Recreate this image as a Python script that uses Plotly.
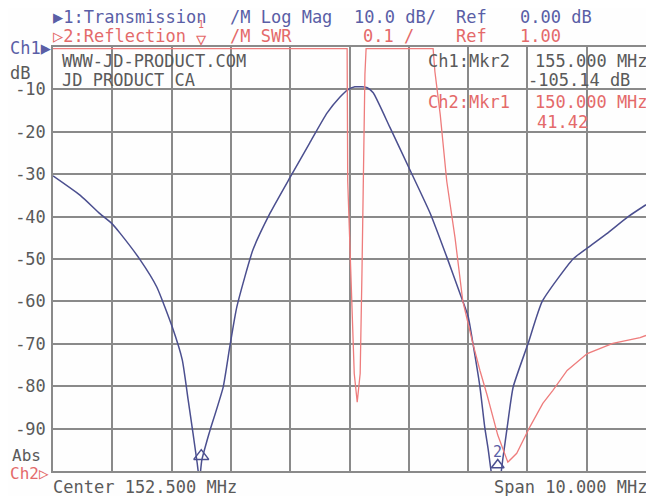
import plotly.graph_objects as go

# ---------------- data ----------------
freq_blue = [147.5, 147.96, 148.29, 148.49, 148.63, 148.97, 149.25, 149.51, 149.68, 149.78,
             149.86, 149.93, 149.97, 150.01, 150.10, 150.15, 150.37, 150.48, 150.60, 150.87,
             151.16, 151.50, 151.83, 152.12, 152.34, 152.47, 152.59, 152.71, 152.80, 152.90,
             153.18, 153.52, 153.86, 154.14, 154.36, 154.50, 154.58, 154.70, 154.78, 154.84,
             154.90, 155.00, 155.09, 155.16, 155.26, 155.51, 155.75, 156.27, 156.51,
             156.84, 157.20, 157.5]
trans_db = [-30.4, -35.0, -39.3, -41.6, -43.9, -50.2, -56.6, -66.0, -73.8, -83.3,
            -91.0, -98.0, -102.0, -97.4, -92.7, -90.3, -80.2, -70.8, -61.3, -47.9,
            -39.2, -30.7, -22.6, -15.6, -11.8, -10.1, -9.4, -9.4, -9.6, -10.8,
            -18.9, -29.0, -39.2, -49.5, -58.0, -63.5, -69.8, -80.2, -89.6, -95.0,
            -101.0, -105.14, -96.7, -89.6, -80.2, -70.0, -60.0, -50.0, -47.4,
            -44.0, -40.0, -37.2]

freq_red = [147.5, 152.46, 152.47, 152.54, 152.58, 152.63, 152.68, 152.71, 152.73, 152.76,
            152.78, 153.91, 153.94, 154.03, 154.14, 154.28, 154.41, 154.50, 154.58, 154.70,
            154.82, 155.00, 155.17, 155.32, 155.54, 155.76, 155.93, 156.17, 156.51, 156.94,
            157.40, 157.50]
refl_swr = [2.0, 2.0, 1.686, 1.387, 1.231, 1.163, 1.231, 1.467, 1.703, 1.939,
            2.0, 2.0, 1.946, 1.844, 1.686, 1.552, 1.403, 1.349, 1.302, 1.238,
            1.18, 1.085, 1.021, 1.042, 1.104, 1.160, 1.191, 1.238, 1.278, 1.302,
            1.316, 1.321]

db_ticks = [-10, -20, -30, -40, -50, -60, -70, -80, -90]
db_tick_text = ["-10", "-20", "-30", "-40", "-50", "-60", "-70", "-80", "-90"]

mkr_freqs = [150.0, 155.0]
mkr1_ch1_db = -96.5
mkr2_ch1_db = -98.6
mkr2_label_db = -95.4
mkr_ch2_swr_top = 2.0

# ---------------- styles ----------------
# the page body has an 8px margin, so the figure is drawn 8px smaller
OFF = 8
SW, SH = 654, 496                    # screen size
W, H = SW - OFF, SH - OFF            # figure size
PLOT_L, PLOT_R, PLOT_T, PLOT_B = 53, 648, 47, 471   # plot area on screen
L, R, T, B = PLOT_L - OFF, SW - PLOT_R, PLOT_T - OFF, SH - PLOT_B
PW, PH = PLOT_R - PLOT_L, PLOT_B - PLOT_T
BLUE = "#4b4f8f"
BLUE_TXT = "#5a5ea6"
RED = "#ee7c7c"
RED_TXT = "#e46a6a"
GREY_TXT = "#5a5a5a"
GRID = "#8a8a8a"
FONT = "DejaVu Sans Mono"
FS = 17


def px(x):
    return (x - PLOT_L) / PW


def py(y):
    return (PLOT_B - y) / PH


fig = go.Figure()
fig.add_trace(go.Scatter(x=freq_blue, y=trans_db, mode="lines",
                         line=dict(color=BLUE, width=1.5, shape="spline", smoothing=0.5),
                         showlegend=False, yaxis="y"))
fig.add_trace(go.Scatter(x=freq_red, y=refl_swr, mode="lines",
                         line=dict(color=RED, width=1.3), showlegend=False, yaxis="y2"))

# markers
fig.add_trace(go.Scatter(x=[mkr_freqs[0]], y=[mkr1_ch1_db], mode="markers", cliponaxis=False,
                         marker=dict(symbol="triangle-up-open", size=13, color=BLUE,
                                     line=dict(width=1.5, color=BLUE)),
                         showlegend=False, yaxis="y"))
fig.add_trace(go.Scatter(x=[mkr_freqs[1]], y=[mkr2_ch1_db], mode="markers", cliponaxis=False,
                         marker=dict(symbol="triangle-up-open", size=11, color=BLUE,
                                     line=dict(width=1.5, color=BLUE)),
                         showlegend=False, yaxis="y"))
fig.add_annotation(x=mkr_freqs[1], y=mkr2_label_db, xref="x", yref="y", text="2",
                   showarrow=False, yanchor="middle",
                   font=dict(family=FONT, size=15, color=BLUE_TXT))

fig.update_layout(
    width=W, height=H,
    margin=dict(l=L, r=R, t=T, b=B),
    paper_bgcolor="#fefefe", plot_bgcolor="#fefefe",
    font=dict(family=FONT, size=FS, color=GREY_TXT),
    xaxis=dict(range=[147.5, 157.5], dtick=1, tick0=147.5, showgrid=True, gridcolor=GRID,
               gridwidth=1.5, showticklabels=False, ticks="", zeroline=False,
               showline=True, linecolor=GRID, linewidth=1.5, mirror=True),
    yaxis=dict(range=[-100, 0], tickvals=db_ticks, ticktext=db_tick_text, showgrid=True,
               gridcolor=GRID, gridwidth=1.5, ticks="", zeroline=False,
               showline=True, linecolor=GRID, linewidth=1.5, mirror=True,
               tickfont=dict(family=FONT, size=FS, color=GREY_TXT), ticklabelstandoff=2),
    yaxis2=dict(range=[1.0, 2.004], overlaying="y", visible=False),
)


def txt(x, y, s, color, size=FS, anchor="left"):
    fig.add_annotation(xref="paper", yref="paper", x=px(x), y=py(y), text=s, showarrow=False,
                       xanchor=anchor, yanchor="middle",
                       font=dict(family=FONT, size=size, color=color))


# header
txt(51, 17, "▶1:Transmission", BLUE_TXT)
txt(229, 17, "/M Log Mag", BLUE_TXT)
txt(353, 17, "10.0 dB/", BLUE_TXT)
txt(455, 17, "Ref", BLUE_TXT)
txt(520, 17, "0.00 dB", BLUE_TXT)
txt(51, 36, "▷2:Reflection", RED_TXT)
txt(229, 36, "/M SWR", RED_TXT)
txt(362, 36, "0.1 /", RED_TXT)
txt(455, 36, "Ref", RED_TXT)
txt(520, 36, "1.00", RED_TXT)
# ch2 marker 1 at top (trace is clipped there)
fig.add_annotation(x=mkr_freqs[0], y=mkr_ch2_swr_top, xref="x", yref="y2", text="▽",
                   showarrow=False, yanchor="bottom", yshift=-2,
                   font=dict(family=FONT, size=FS, color=RED_TXT))
fig.add_annotation(x=mkr_freqs[0], y=mkr_ch2_swr_top, xref="x", yref="y2", text="1",
                   showarrow=False, yanchor="bottom", yshift=17,
                   font=dict(family=FONT, size=10, color=RED_TXT))

# left side labels
txt(8, 48, "Ch1▶", BLUE_TXT)
txt(8, 73, "dB", GREY_TXT)
txt(10, 455, "Abs", GREY_TXT, size=16)
txt(8, 473, "Ch2▷", RED_TXT, size=16)

# inside-plot labels
txt(60, 61, "WWW-JD-PRODUCT.COM", GREY_TXT)
txt(60, 80, "JD PRODUCT CA", GREY_TXT)
txt(427, 61, "Ch1:Mkr2", GREY_TXT)
txt(535, 61, "155.000 MHz", GREY_TXT)
txt(528, 80, "-105.14 dB", GREY_TXT)
txt(427, 102, "Ch2:Mkr1", RED_TXT)
txt(535, 102, "150.000 MHz", RED_TXT)
txt(537, 122, "41.42", RED_TXT)

# bottom
txt(51, 487, "Center 152.500 MHz", GREY_TXT)
txt(493, 487, "Span 10.000 MHz", GREY_TXT)

# trace end labels
txt(647, 207, "1", BLUE_TXT, size=14)
txt(647, 336, "2", RED_TXT, size=14)

fig.write_html("out.html")
